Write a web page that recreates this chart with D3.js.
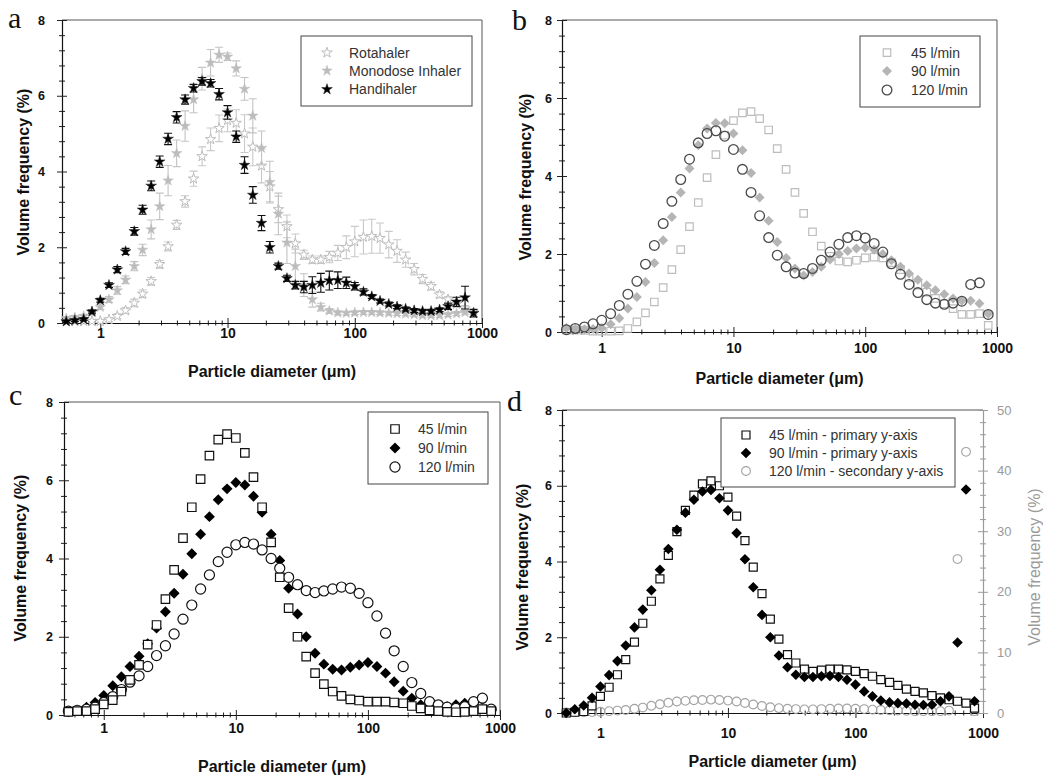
<!DOCTYPE html>
<html>
<head>
<meta charset="utf-8">
<script src="https://cdn.jsdelivr.net/npm/d3@7"></script>
<style>
  body { margin: 0; background: #fff; }
  svg { display: block; font-family: "Liberation Sans", Arial, sans-serif; }
</style>
</head>
<body>
<svg id="fig" width="1043" height="778"></svg>
<script>
// particle size bins (um), same for all four panels
const diameters = [0.54, 0.63, 0.74, 0.86, 1.0, 1.17, 1.36, 1.58, 1.85, 2.15,
  2.51, 2.93, 3.41, 3.98, 4.64, 5.41, 6.31, 7.36, 8.58, 10.0,
  11.7, 13.6, 15.8, 18.5, 21.5, 25.1, 29.3, 34.1, 39.8, 46.4,
  54.1, 63.1, 73.6, 85.8, 100, 117, 136, 158, 185, 215,
  251, 293, 341, 398, 464, 541, 631, 736, 858];

const xTicks = [1, 10, 100, 1000];
const xMinorTicks = [0.6, 0.7, 0.8, 0.9, 2, 3, 4, 5, 6, 7, 8, 9,
  20, 30, 40, 50, 60, 70, 80, 90, 200, 300, 400, 500, 600, 700, 800, 900];
const yTicks = [0, 2, 4, 6, 8];
const yMinorTicks = [0.4, 0.8, 1.2, 1.6, 2.4, 2.8, 3.2, 3.6, 4.4, 4.8, 5.2, 5.6, 6.4, 6.8, 7.2, 7.6];
const y2Ticks = [0, 10, 20, 30, 40, 50];
const y2MinorTicks = [2, 4, 6, 8, 12, 14, 16, 18, 22, 24, 26, 28, 32, 34, 36, 38, 42, 44, 46, 48];

// panel a - inhaler devices (mean +/- sd)
const rotahaler = [0.05, 0.05, 0.05, 0.05, 0.05, 0.09, 0.18, 0.33, 0.53, 0.77,
  1.1, 1.55, 2.02, 2.59, 3.21, 3.81, 4.4, 4.85, 5.14, 5.35,
  5.28, 5.0, 4.65, 4.15, 3.6, 3.0, 2.55, 2.1, 1.8, 1.67,
  1.67, 1.74, 1.85, 2.0, 2.15, 2.27, 2.29, 2.24, 2.07, 1.9,
  1.67, 1.42, 1.16, 0.97, 0.75, 0.62, 0.5, 0.38, 0.26];
const rotahalerErr = [0.03, 0.03, 0.03, 0.03, 0.04, 0.05, 0.06, 0.08, 0.1, 0.1,
  0.1, 0.1, 0.12, 0.12, 0.15, 0.2, 0.25, 0.3, 0.35, 0.3,
  0.35, 0.5, 0.5, 0.45, 0.4, 0.35, 0.3, 0.25, 0.12, 0.1,
  0.1, 0.15, 0.2, 0.3, 0.4, 0.45, 0.45, 0.4, 0.35, 0.3,
  0.2, 0.15, 0.12, 0.1, 0.08, 0.08, 0.08, 0.08, 0.08];
const monodose = [0.12, 0.15, 0.18, 0.28, 0.42, 0.62, 0.86, 1.14, 1.5, 1.93,
  2.47, 3.08, 3.76, 4.48, 5.2, 5.9, 6.45, 6.87, 7.08, 7.03,
  6.72, 6.18, 5.47, 4.62, 3.72, 2.88, 2.12, 1.5, 1.0, 0.62,
  0.42, 0.32, 0.27, 0.26, 0.27, 0.28, 0.28, 0.27, 0.26, 0.25,
  0.24, 0.22, 0.2, 0.2, 0.2, 0.22, 0.25, 0.28, 0.28];
const monodoseErr = [0.05, 0.05, 0.05, 0.06, 0.06, 0.08, 0.1, 0.1, 0.12, 0.15,
  0.25, 0.35, 0.4, 0.35, 0.4, 0.35, 0.3, 0.35, 0.2, 0.1,
  0.2, 0.3, 0.45, 0.45, 0.55, 0.55, 0.55, 0.45, 0.3, 0.2,
  0.1, 0.06, 0.05, 0.05, 0.05, 0.05, 0.05, 0.05, 0.05, 0.05,
  0.05, 0.05, 0.05, 0.05, 0.05, 0.05, 0.05, 0.05, 0.05];
const handihaler = [0.04, 0.07, 0.1, 0.3, 0.6, 1.0, 1.41, 1.89, 2.42, 2.99,
  3.62, 4.26, 4.86, 5.43, 5.9, 6.2, 6.38, 6.33, 6.04, 5.56,
  4.92, 4.17, 3.38, 2.64, 2.0, 1.5, 1.18, 1.0, 0.95, 1.0,
  1.06, 1.12, 1.13, 1.06, 0.97, 0.82, 0.7, 0.58, 0.5, 0.43,
  0.37, 0.33, 0.31, 0.31, 0.35, 0.44, 0.56, 0.67, 0.26];
const handihalerErr = [0.03, 0.03, 0.03, 0.04, 0.05, 0.06, 0.08, 0.08, 0.1, 0.12,
  0.13, 0.15, 0.15, 0.15, 0.12, 0.1, 0.1, 0.1, 0.15, 0.18,
  0.15, 0.22, 0.22, 0.2, 0.15, 0.08, 0.08, 0.1, 0.15, 0.22,
  0.25, 0.25, 0.22, 0.15, 0.1, 0.08, 0.05, 0.05, 0.05, 0.05,
  0.05, 0.05, 0.05, 0.05, 0.05, 0.08, 0.12, 0.3, 0.1];

// panel b - flow rates
const b45 = [0.05, 0.05, 0.04, 0.02, 0.02, 0.02, 0.03, 0.09, 0.26, 0.49,
  0.77, 1.14, 1.6, 2.11, 2.7, 3.32, 3.96, 4.55, 5.05, 5.42,
  5.62, 5.65, 5.47, 5.18, 4.7, 4.17, 3.58, 3.04, 2.57, 2.2,
  1.94, 1.82, 1.8, 1.84, 1.9, 1.92, 1.9, 1.78, 1.6, 1.4,
  1.2, 1.02, 0.86, 0.72, 0.6, 0.45, 0.45, 0.47, 0.17];
const b90 = [0.1, 0.08, 0.07, 0.08, 0.1, 0.2, 0.35, 0.6, 0.9, 1.28,
  1.77, 2.35, 2.95, 3.58, 4.19, 4.79, 5.22, 5.36, 5.35, 5.09,
  4.66, 4.08, 3.45, 2.85, 2.31, 1.9, 1.63, 1.45, 1.54, 1.67,
  1.86, 2.0, 2.08, 2.14, 2.16, 2.11, 2.0, 1.84, 1.67, 1.5,
  1.34, 1.2, 1.07, 0.97, 0.86, 0.8, 0.8, 0.73, 0.47];
const b120 = [0.06, 0.09, 0.13, 0.21, 0.3, 0.47, 0.68, 0.97, 1.3, 1.74,
  2.22, 2.78, 3.35, 3.91, 4.43, 4.85, 5.09, 5.16, 5.02, 4.68,
  4.17, 3.58, 2.98, 2.42, 1.97, 1.67, 1.51, 1.5, 1.63, 1.84,
  2.05, 2.25, 2.42, 2.47, 2.41, 2.27, 2.05, 1.75, 1.48, 1.22,
  1.01, 0.83, 0.74, 0.71, 0.74, 0.79, 1.22, 1.26, 0.45];

// panel c
const c45 = [0.08, 0.1, 0.1, 0.15, 0.27, 0.38, 0.6, 0.9, 1.28, 1.8,
  2.3, 2.96, 3.71, 4.52, 5.31, 6.03, 6.63, 7.04, 7.18, 7.08,
  6.7, 6.08, 5.31, 4.41, 3.52, 2.73, 2.0, 1.49, 1.07, 0.79,
  0.6, 0.49, 0.4, 0.37, 0.34, 0.34, 0.34, 0.32, 0.3, 0.23,
  0.17, 0.12, 0.1, 0.08, 0.07, 0.08, 0.1, 0.15, 0.1];
const c90 = [0.08, 0.12, 0.2, 0.32, 0.5, 0.75, 0.98, 1.24, 1.5, 1.82,
  2.22, 2.64, 3.11, 3.6, 4.12, 4.62, 5.07, 5.5, 5.78, 5.94,
  5.88, 5.59, 5.18, 4.62, 3.95, 3.24, 2.58, 2.0, 1.58, 1.3,
  1.17, 1.15, 1.22, 1.28, 1.34, 1.24, 1.07, 0.85, 0.61, 0.43,
  0.26, 0.17, 0.15, 0.21, 0.26, 0.3, 0.32, 0.4, 0.13];
const c120 = [0.1, 0.12, 0.15, 0.2, 0.32, 0.47, 0.65, 0.84, 1.0, 1.24,
  1.52, 1.77, 2.07, 2.45, 2.81, 3.22, 3.58, 3.92, 4.16, 4.35,
  4.41, 4.37, 4.22, 4.0, 3.75, 3.52, 3.33, 3.18, 3.13, 3.17,
  3.22, 3.27, 3.24, 3.11, 2.87, 2.53, 2.09, 1.64, 1.24, 0.83,
  0.55, 0.34, 0.26, 0.2, 0.17, 0.21, 0.34, 0.43, 0.15];

// panel d (120 l/min on the secondary axis)
const d45 = [0.0, 0.02, 0.04, 0.19, 0.44, 0.68, 1.01, 1.41, 1.87, 2.37,
  2.95, 3.54, 4.16, 4.79, 5.35, 5.75, 6.05, 6.13, 6.0, 5.7,
  5.2, 4.55, 3.85, 3.15, 2.48, 1.95, 1.54, 1.32, 1.16, 1.1,
  1.13, 1.16, 1.16, 1.14, 1.1, 1.04, 0.97, 0.88, 0.81, 0.73,
  0.63, 0.57, 0.53, 0.46, 0.4, 0.35, 0.31, 0.26, 0.13];
const d90 = [0.0, 0.1, 0.2, 0.4, 0.7, 1.0, 1.37, 1.78, 2.26, 2.73,
  3.24, 3.78, 4.33, 4.84, 5.29, 5.63, 5.85, 5.89, 5.67, 5.35,
  4.75, 4.06, 3.32, 2.59, 2.0, 1.52, 1.21, 1.01, 0.95, 0.95,
  0.97, 0.98, 0.95, 0.88, 0.75, 0.57, 0.44, 0.33, 0.28, 0.26,
  0.25, 0.22, 0.21, 0.22, 0.31, 0.44, 1.86, 5.9, 0.31];
const d120 = [0.1, 0.1, 0.1, 0.15, 0.2, 0.3, 0.4, 0.5, 0.7, 0.9,
  1.2, 1.45, 1.7, 1.9, 2.0, 2.1, 2.15, 2.2, 2.15, 2.05,
  1.9, 1.65, 1.4, 1.15, 0.95, 0.8, 0.7, 0.65, 0.6, 0.6,
  0.65, 0.7, 0.75, 0.75, 0.7, 0.65, 0.55, 0.5, 0.45, 0.4,
  0.35, 0.3, 0.3, 0.3, 0.3, 0.4, 25.4, 43.1, 0.3];

const svg = d3.select('#fig');
const star = d3.symbolStar, square = d3.symbolSquare, circle = d3.symbolCircle;

// panel layout + series styles
const panels = [
  { tag: 'a', tagX: 8, tagY: 28, left: 62, right: 482, top: 20, bottom: 323,
    xPad: 5, yPad: 17, xTitleY: 377, yTitleX: 23, yTitleY: 172,
    legend: { x: 301, y: 36, w: 171, h: 70, symX: 327, textX: 349, rows: [52.7, 70.7, 89.3] },
    series: [
      { name: 'Rotahaler', values: rotahaler, err: rotahalerErr, type: star, size: 34, fill: '#fff', stroke: '#bdbdbd', sw: 1, errColor: '#c9c9c9' },
      { name: 'Monodose Inhaler', values: monodose, err: monodoseErr, type: star, size: 34, fill: '#bcbcbc', stroke: '#bcbcbc', sw: 0.5, errColor: '#c4c4c4' },
      { name: 'Handihaler', values: handihaler, err: handihalerErr, type: star, size: 36, fill: '#000', stroke: '#222', sw: 0.5, errColor: '#111' }
    ] },
  { tag: 'b', tagX: 512, tagY: 30, left: 562, right: 997, top: 20, bottom: 332,
    xPad: 11, yPad: 10, xTitleY: 384, yTitleX: 525, yTitleY: 177,
    legend: { x: 860, y: 36, w: 120, h: 71, symX: 887, textX: 911, rows: [52.7, 71, 90] },
    series: [
      { name: '45 l/min', values: b45, type: square, size: 56, fill: 'none', stroke: '#bdbdbd', sw: 1.2 },
      { name: '90 l/min', values: b90, type: square, size: 50, rotate: 45, fill: '#b5b5b5', stroke: 'none', sw: 0 },
      { name: '120 l/min', values: b120, type: circle, size: 74, fill: 'none', stroke: '#4a4a4a', sw: 1.3 }
    ] },
  { tag: 'c', tagX: 9, tagY: 405, left: 64, right: 500, top: 402, bottom: 715,
    xPad: 8, yPad: 11, xTitleY: 772, yTitleX: 20, yTitleY: 558,
    legend: { x: 368, y: 412, w: 120, h: 72, symX: 395, textX: 418, rows: [429, 448, 467] },
    order: [1, 2, 0],
    series: [
      { name: '45 l/min', values: c45, type: square, size: 72, fill: '#fff', stroke: '#111', sw: 1.2 },
      { name: '90 l/min', values: c90, type: square, size: 60, rotate: 45, fill: '#000', stroke: 'none', sw: 0 },
      { name: '120 l/min', values: c120, type: circle, size: 80, fill: '#fff', stroke: '#111', sw: 1.2 }
    ] },
  { tag: 'd', tagX: 507, tagY: 411, left: 562, right: 983, top: 410, bottom: 713,
    xPad: 15, yPad: 10, xTitleY: 767, yTitleX: 522, yTitleY: 567, secondary: true,
    legend: { x: 721, y: 418, w: 234, h: 69, symX: 746, textX: 769, rows: [435, 453, 471] },
    order: [2, 0, 1],
    series: [
      { name: '45 l/min - primary y-axis', values: d45, type: square, size: 64, fill: '#fff', stroke: '#111', sw: 1.2 },
      { name: '90 l/min - primary y-axis', values: d90, type: square, size: 56, rotate: 45, fill: '#000', stroke: 'none', sw: 0 },
      { name: '120 l/min - secondary y-axis', values: d120, type: circle, size: 60, fill: 'none', stroke: '#a3a3a3', sw: 1.1, axis2: true }
    ] }
];

function tickCross(sel, attrA, attrB, len) {
  sel.selectAll('.tick line').attr(attrA, -len).attr(attrB, len);
}

function drawPanel(p) {
  const g = svg.append('g');
  const x = d3.scaleLog().domain([0.5, 1000]).range([p.left, p.right]);
  const y = d3.scaleLinear().domain([0, 8]).range([p.bottom, p.top]);
  const y2 = d3.scaleLinear().domain([0, 50]).range([p.bottom, p.top]);

  // frame: top line (and right line unless there is a secondary axis)
  g.append('path')
    .attr('d', p.secondary ? `M${p.left},${p.top}H${p.right}` : `M${p.left},${p.top}H${p.right}V${p.bottom}`)
    .attr('fill', 'none').attr('stroke', '#555').attr('stroke-width', 1);

  // x axis: minor ticks then majors with labels
  const xm = g.append('g').attr('transform', `translate(0,${p.bottom})`)
    .call(d3.axisBottom(x).tickValues(xMinorTicks).tickSize(0).tickFormat(''));
  xm.select('.domain').remove();
  tickCross(xm, 'y1', 'y2', 2.5);
  const xa = g.append('g').attr('transform', `translate(0,${p.bottom})`)
    .call(d3.axisBottom(x).tickValues(xTicks).tickSize(0).tickPadding(p.xPad).tickFormat(d3.format('d')));
  tickCross(xa, 'y1', 'y2', 5);
  xa.selectAll('text').attr('font-size', 14).attr('font-weight', 'bold').attr('fill', '#111')
    .attr('font-family', '"Liberation Sans", Arial, sans-serif');

  // y axis
  const ym = g.append('g').attr('transform', `translate(${p.left},0)`)
    .call(d3.axisLeft(y).tickValues(yMinorTicks).tickSize(0).tickFormat(''));
  ym.select('.domain').remove();
  tickCross(ym, 'x1', 'x2', 3);
  const ya = g.append('g').attr('transform', `translate(${p.left},0)`)
    .call(d3.axisLeft(y).tickValues(yTicks).tickSize(0).tickPadding(p.yPad));
  tickCross(ya, 'x1', 'x2', 5);
  ya.selectAll('text').attr('font-size', 12.5).attr('font-weight', 'bold').attr('fill', '#111')
    .attr('font-family', '"Liberation Sans", Arial, sans-serif');
  g.selectAll('.domain').attr('stroke', '#111').attr('stroke-width', 1.2);
  g.selectAll('.tick line').attr('stroke', '#222');

  // secondary axis (panel d)
  if (p.secondary) {
    const gray = '#9a9a9a';
    const rm = g.append('g').attr('transform', `translate(${p.right},0)`)
      .call(d3.axisRight(y2).tickValues(y2MinorTicks).tickSize(0).tickFormat(''));
    rm.select('.domain').remove();
    tickCross(rm, 'x1', 'x2', 3);
    const ra = g.append('g').attr('transform', `translate(${p.right},0)`)
      .call(d3.axisRight(y2).tickValues(y2Ticks).tickSize(0).tickPadding(14));
    tickCross(ra, 'x1', 'x2', 5);
    ra.selectAll('text').attr('font-size', 13).attr('fill', gray)
      .attr('font-family', '"Liberation Sans", Arial, sans-serif');
    rm.selectAll('.tick line').attr('stroke', gray);
    ra.selectAll('.tick line').attr('stroke', gray);
    ra.select('.domain').attr('stroke', gray).attr('stroke-width', 1.2);
    g.append('text')
      .attr('transform', 'translate(1040,567) rotate(-90)')
      .attr('text-anchor', 'middle').attr('font-size', 16).attr('fill', gray)
      .text('Volume frequency (%)');
  }

  // titles
  g.append('text')
    .attr('x', (p.left + p.right) / 2).attr('y', p.xTitleY)
    .attr('text-anchor', 'middle').attr('font-size', 16).attr('font-weight', 'bold').attr('fill', '#111')
    .text('Particle diameter (\u03bcm)');
  g.append('text')
    .attr('transform', `translate(${p.yTitleX + 6},${p.yTitleY}) rotate(-90)`)
    .attr('text-anchor', 'middle').attr('font-size', 16).attr('font-weight', 'bold').attr('fill', '#111')
    .text('Volume frequency (%)');
  g.append('text')
    .attr('x', p.tagX).attr('y', p.tagY)
    .attr('font-family', '"Liberation Serif", "Times New Roman", serif').attr('font-size', 30).attr('fill', '#111')
    .text(p.tag);

  // data
  const order = p.order || p.series.map((s, i) => i);
  order.forEach(i => {
    const s = p.series[i];
    const ys = s.axis2 ? y2 : y;
    const pts = diameters.map((d, j) => ({ d: d, v: s.values[j], e: s.err ? s.err[j] : 0 }));
    if (s.err) {
      const eg = g.append('g').attr('stroke', s.errColor).attr('stroke-width', 1.1);
      eg.selectAll('path').data(pts).join('path')
        .attr('d', pt => {
          const cx = x(pt.d), y0 = ys(Math.max(0, pt.v - pt.e)), y1 = ys(pt.v + pt.e);
          return `M${cx},${y0}V${y1}M${cx - 4},${y0}H${cx + 4}M${cx - 4},${y1}H${cx + 4}`;
        });
    }
    const sym = d3.symbol().type(s.type).size(s.size);
    g.append('g').selectAll('path').data(pts).join('path')
      .attr('d', sym)
      .attr('transform', pt => `translate(${x(pt.d)},${ys(pt.v)})` + (s.rotate ? ` rotate(${s.rotate})` : ''))
      .attr('fill', s.fill).attr('stroke', s.stroke).attr('stroke-width', s.sw);
  });

  // legend
  const L = p.legend;
  const lg = g.append('g');
  lg.append('rect').attr('x', L.x).attr('y', L.y).attr('width', L.w).attr('height', L.h)
    .attr('fill', '#fff').attr('stroke', '#444').attr('stroke-width', 1);
  p.series.forEach((s, i) => {
    lg.append('path')
      .attr('d', d3.symbol().type(s.type).size(s.size)())
      .attr('transform', `translate(${L.symX},${L.rows[i]})` + (s.rotate ? ` rotate(${s.rotate})` : ''))
      .attr('fill', s.fill).attr('stroke', s.stroke).attr('stroke-width', s.sw);
    lg.append('text')
      .attr('x', L.textX).attr('y', L.rows[i] + 5)
      .attr('font-size', 14).attr('fill', '#333')
      .text(s.name);
  });
}

panels.forEach(drawPanel);
</script>
</body>
</html>
